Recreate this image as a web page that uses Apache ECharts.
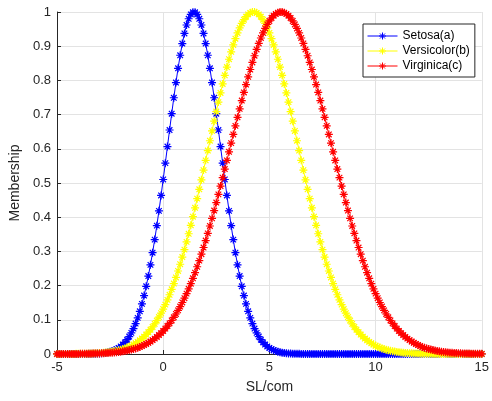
<!DOCTYPE html>
<html>
<head>
<meta charset="utf-8">
<script src="https://cdn.jsdelivr.net/npm/echarts@6/dist/echarts.min.js"></script>
<style>
html,body{margin:0;padding:0;background:#fff;}
#chart{width:492px;height:401px;}
</style>
</head>
<body>
<div id="chart"></div>
<script>
var xs = [
-5,-4.9,-4.8,-4.7,-4.6,-4.5,-4.4,-4.3,-4.2,-4.1,
-4,-3.9,-3.8,-3.7,-3.6,-3.5,-3.4,-3.3,-3.2,-3.1,
-3,-2.9,-2.8,-2.7,-2.6,-2.5,-2.4,-2.3,-2.2,-2.1,
-2,-1.9,-1.8,-1.7,-1.6,-1.5,-1.4,-1.3,-1.2,-1.1,
-1,-0.9,-0.8,-0.7,-0.6,-0.5,-0.4,-0.3,-0.2,-0.1,
0,0.1,0.2,0.3,0.4,0.5,0.6,0.7,0.8,0.9,
1,1.1,1.2,1.3,1.4,1.5,1.6,1.7,1.8,1.9,
2,2.1,2.2,2.3,2.4,2.5,2.6,2.7,2.8,2.9,
3,3.1,3.2,3.3,3.4,3.5,3.6,3.7,3.8,3.9,
4,4.1,4.2,4.3,4.4,4.5,4.6,4.7,4.8,4.9,
5,5.1,5.2,5.3,5.4,5.5,5.6,5.7,5.8,5.9,
6,6.1,6.2,6.3,6.4,6.5,6.6,6.7,6.8,6.9,
7,7.1,7.2,7.3,7.4,7.5,7.6,7.7,7.8,7.9,
8,8.1,8.2,8.3,8.4,8.5,8.6,8.7,8.8,8.9,
9,9.1,9.2,9.3,9.4,9.5,9.6,9.7,9.8,9.9,
10,10.1,10.2,10.3,10.4,10.5,10.6,10.7,10.8,10.9,
11,11.1,11.2,11.3,11.4,11.5,11.6,11.7,11.8,11.9,
12,12.1,12.2,12.3,12.4,12.5,12.6,12.7,12.8,12.9,
13,13.1,13.2,13.3,13.4,13.5,13.6,13.7,13.8,13.9,
14,14.1,14.2,14.3,14.4,14.5,14.6,14.7,14.8,14.9,
15
];

var setosa = [
0,0,0,0,0,0,0,0,0,0,
0,0,0,0,0,0.0004,0.0005,0.0007,0.001,0.0013,
0.0018,0.0023,0.0031,0.004,0.0053,0.0068,0.0087,0.0111,0.0141,0.0177,
0.0222,0.0276,0.034,0.0418,0.051,0.0617,0.0743,0.0889,0.1057,0.1248,
0.1465,0.1708,0.1979,0.2278,0.2606,0.2962,0.3345,0.3753,0.4185,0.4636,
0.5103,0.5581,0.6065,0.6549,0.7027,0.7492,0.7936,0.8353,0.8735,0.9077,
0.9373,0.962,0.9802,0.9928,0.9992,0.9992,0.9928,0.9802,0.962,0.9373,
0.9077,0.8735,0.8353,0.7936,0.7492,0.7027,0.6549,0.6065,0.5581,0.5103,
0.4636,0.4185,0.3753,0.3345,0.2962,0.2606,0.2278,0.1979,0.1708,0.1465,
0.1248,0.1057,0.0889,0.0743,0.0617,0.051,0.0418,0.034,0.0276,0.0222,
0.0177,0.0141,0.0111,0.0087,0.0068,0.0053,0.004,0.0031,0.0023,0.0018,
0.0013,0.001,0.0007,0.0005,0.0004,0,0,0,0,0,
0,0,0,0,0,0,0,0,0,0,
0,0,0,0,0,0,0,0,0,0,
0,0,0,0,0,0,0,0,0,0,
0,0,0,0,0,0,0,0,0,0,
0,0,0,0,0,0,0,0,0,0,
0,0,0,0,0,0,0,0,0,0,
0,0,0,0,0,0,0,0,0,0,
0,0,0,0,0,0,0,0,0,0,
0
];

var versicolor = [
0.0001,0.0001,0.0001,0.0001,0.0002,0.0002,0.0002,0.0003,0.0003,0.0004,
0.0005,0.0006,0.0007,0.0008,0.001,0.0012,0.0014,0.0017,0.002,0.0023,
0.0027,0.0032,0.0038,0.0044,0.0051,0.006,0.007,0.0081,0.0093,0.0108,
0.0124,0.0143,0.0164,0.0187,0.0214,0.0244,0.0277,0.0314,0.0355,0.0401,
0.0452,0.0508,0.057,0.0637,0.0711,0.0792,0.0881,0.0977,0.108,0.1193,
0.1314,0.1444,0.1583,0.1732,0.1891,0.206,0.2238,0.2427,0.2625,0.2834,
0.3052,0.3279,0.3516,0.3762,0.4014,0.4275,0.4543,0.4816,0.5094,0.5377,
0.5662,0.5949,0.6236,0.6523,0.6808,0.7088,0.7365,0.7634,0.7896,0.8148,
0.839,0.8619,0.8835,0.9036,0.922,0.9387,0.9536,0.9666,0.9775,0.9863,
0.993,0.9975,0.9997,0.9997,0.9975,0.993,0.9863,0.9775,0.9666,0.9536,
0.9387,0.922,0.9036,0.8835,0.8619,0.839,0.8148,0.7896,0.7634,0.7365,
0.7088,0.6808,0.6523,0.6236,0.5949,0.5662,0.5377,0.5094,0.4816,0.4543,
0.4275,0.4014,0.3762,0.3516,0.3279,0.3052,0.2834,0.2625,0.2427,0.2238,
0.206,0.1891,0.1732,0.1583,0.1444,0.1314,0.1193,0.108,0.0977,0.0881,
0.0792,0.0711,0.0637,0.057,0.0508,0.0452,0.0401,0.0355,0.0314,0.0277,
0.0244,0.0214,0.0187,0.0164,0.0143,0.0124,0.0108,0.0093,0.0081,0.007,
0.006,0.0051,0.0044,0.0038,0.0032,0.0027,0.0023,0.002,0.0017,0.0014,
0.0012,0.001,0.0008,0.0007,0.0006,0.0005,0.0004,0.0003,0.0003,0.0002,
0.0002,0.0002,0.0001,0.0001,0.0001,0.0001,0,0,0,0,
0,0,0,0,0,0,0,0,0,0,
0
];

var virginica = [
0.0001,0.0001,0.0001,0.0001,0.0001,0.0001,0.0002,0.0002,0.0002,0.0003,
0.0003,0.0004,0.0005,0.0006,0.0007,0.0008,0.0009,0.0011,0.0012,0.0014,
0.0017,0.0019,0.0022,0.0026,0.003,0.0034,0.004,0.0045,0.0052,0.006,
0.0068,0.0077,0.0088,0.01,0.0114,0.0129,0.0146,0.0164,0.0185,0.0208,
0.0234,0.0262,0.0293,0.0327,0.0364,0.0405,0.045,0.0499,0.0553,0.0611,
0.0674,0.0742,0.0816,0.0895,0.098,0.1072,0.117,0.1275,0.1387,0.1506,
0.1632,0.1765,0.1907,0.2056,0.2213,0.2378,0.2551,0.2731,0.2919,0.3114,
0.3317,0.3527,0.3743,0.3966,0.4194,0.4428,0.4667,0.491,0.5157,0.5407,
0.5659,0.5912,0.6166,0.6419,0.6671,0.6921,0.7168,0.741,0.7648,0.7879,
0.8103,0.8318,0.8525,0.8721,0.8906,0.908,0.924,0.9387,0.9519,0.9637,
0.9739,0.9824,0.9893,0.9945,0.998,0.9998,0.9998,0.998,0.9945,0.9893,
0.9824,0.9739,0.9637,0.9519,0.9387,0.924,0.908,0.8906,0.8721,0.8525,
0.8318,0.8103,0.7879,0.7648,0.741,0.7168,0.6921,0.6671,0.6419,0.6166,
0.5912,0.5659,0.5407,0.5157,0.491,0.4667,0.4428,0.4194,0.3966,0.3743,
0.3527,0.3317,0.3114,0.2919,0.2731,0.2551,0.2378,0.2213,0.2056,0.1907,
0.1765,0.1632,0.1506,0.1387,0.1275,0.117,0.1072,0.098,0.0895,0.0816,
0.0742,0.0674,0.0611,0.0553,0.0499,0.045,0.0405,0.0364,0.0327,0.0293,
0.0262,0.0234,0.0208,0.0185,0.0164,0.0146,0.0129,0.0114,0.01,0.0088,
0.0077,0.0068,0.006,0.0052,0.0045,0.004,0.0034,0.003,0.0026,0.0022,
0.0019,0.0017,0.0014,0.0012,0.0011,0.0009,0.0008,0.0007,0.0006,0.0005,
0.0004
];

var seriesNames = ['Setosa(a)', 'Versicolor(b)', 'Virginica(c)'];
var seriesColors = ['#0000ff', '#ffff00', '#ff0000'];
var xTicks = [-5, 0, 5, 10, 15];
var yTicks = [0, 0.1, 0.2, 0.3, 0.4, 0.5, 0.6, 0.7, 0.8, 0.9, 1];

var FONT = '"Liberation Sans", Arial, Helvetica, sans-serif';
var AX = '#262626';
var STAR = 'path://M5,0L5,10M0,5L10,5M1.5,1.5L8.5,8.5M8.5,1.5L1.5,8.5';
var LEGEND_ICON = 'path://M0,3.5L30,3.5M15,0L15,7M11.5,3.5L18.5,3.5M12.5,1L17.5,6M17.5,1L12.5,6';

function pairs(vals) {
  return xs.map(function (x, i) { return [x, vals[i]]; });
}

function mkSeries(idx, vals) {
  var c = seriesColors[idx];
  return {
    name: seriesNames[idx],
    type: 'line',
    data: pairs(vals),
    symbol: STAR,
    symbolSize: 8,
    symbolKeepAspect: true,
    showSymbol: true,
    animation: false,
    lineStyle: { color: c, width: 1 },
    itemStyle: { color: c, borderColor: c, borderWidth: 1.2 },
    emphasis: { disabled: true }
  };
}

var chart = echarts.init(document.getElementById('chart'), null, { renderer: 'canvas' });
chart.setOption({
  animation: false,
  backgroundColor: '#ffffff',
  textStyle: { fontFamily: FONT },
  grid: { left: 54, right: 6, top: 12, bottom: 47, containLabel: false },
  xAxis: {
    type: 'value',
    min: xTicks[0],
    max: xTicks[xTicks.length - 1],
    interval: 5,
    name: 'SL/com',
    nameLocation: 'middle',
    nameGap: 26,
    nameTextStyle: { color: AX, fontSize: 14, fontFamily: FONT },
    axisLine: { show: true, onZero: false, lineStyle: { color: AX, width: 1 } },
    axisTick: { show: true, inside: true, length: 4, lineStyle: { color: AX } },
    axisLabel: { color: AX, fontSize: 13, margin: 7, fontFamily: FONT },
    splitLine: { show: true, lineStyle: { color: '#e3e3e3', width: 1 } }
  },
  yAxis: {
    type: 'value',
    min: yTicks[0],
    max: yTicks[yTicks.length - 1],
    interval: 0.1,
    name: 'Membership',
    nameLocation: 'middle',
    nameGap: 35,
    nameRotate: 90,
    nameTextStyle: { color: AX, fontSize: 14, fontFamily: FONT },
    axisLine: { show: true, onZero: false, lineStyle: { color: AX, width: 1 } },
    axisTick: { show: true, inside: true, length: 4, lineStyle: { color: AX } },
    axisLabel: { color: AX, fontSize: 13, margin: 6, fontFamily: FONT },
    splitLine: { show: true, lineStyle: { color: '#e3e3e3', width: 1 } }
  },
  legend: {
    orient: 'vertical',
    left: 363,
    top: 24,
    padding: [6, 5, 5, 4],
    itemGap: 3,
    itemWidth: 30,
    itemHeight: 7,
    backgroundColor: '#ffffff',
    borderColor: AX,
    borderWidth: 1,
    borderRadius: 0,
    selectedMode: false,
    textStyle: { color: '#000000', fontSize: 12, fontFamily: FONT },
    data: seriesNames.map(function (n, i) {
      return {
        name: n,
        icon: LEGEND_ICON,
        itemStyle: { color: seriesColors[i], borderColor: seriesColors[i], borderWidth: 1 }
      };
    })
  },
  series: [
    mkSeries(0, setosa),
    mkSeries(1, versicolor),
    mkSeries(2, virginica)
  ]
});
</script>
</body>
</html>
